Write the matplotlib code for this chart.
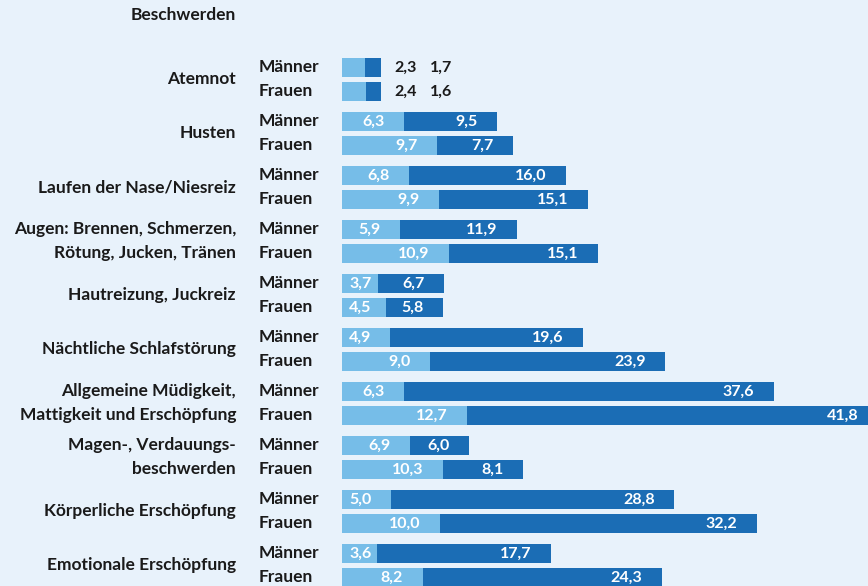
import matplotlib.pyplot as plt
import matplotlib.transforms as mtransforms

plt.rcParams['font.family'] = ['Lato', 'DejaVu Sans']

categories = [
    ['Atemnot'],
    ['Husten'],
    ['Laufen der Nase/Niesreiz'],
    ['Augen: Brennen, Schmerzen,', 'Rötung, Jucken, Tränen'],
    ['Hautreizung, Juckreiz'],
    ['Nächtliche Schlafstörung'],
    ['Allgemeine Müdigkeit,', 'Mattigkeit und Erschöpfung'],
    ['Magen-, Verdauungs-', 'beschwerden'],
    ['Körperliche Erschöpfung'],
    ['Emotionale Erschöpfung'],
]
men_light = [2.3, 6.3, 6.8, 5.9, 3.7, 4.9, 6.3, 6.9, 5.0, 3.6]
men_dark = [1.7, 9.5, 16.0, 11.9, 6.7, 19.6, 37.6, 6.0, 28.8, 17.7]
women_light = [2.4, 9.7, 9.9, 10.9, 4.5, 9.0, 12.7, 10.3, 10.0, 8.2]
women_dark = [1.6, 7.7, 15.1, 15.1, 5.8, 23.9, 41.8, 8.1, 32.2, 24.3]

LIGHT = '#76bde8'
DARK = '#1b6db5'
BG = '#e8f2fb'
TXT = '#1a1a1a'

fig = plt.figure(figsize=(8.68, 5.86), dpi=100, facecolor=BG)
ax = fig.add_axes([342 / 868, 0, 1 - 342 / 868, 1])
ax.set_facecolor(BG)
ax.set_xlim(0, 53.5)
ax.set_ylim(9.380, -1.472)
ax.axis('off')

off = 0.222
h = 0.352
fs = 12.5   # labels
vfs = 11.5  # values


def fmt(v):
    return f'{v:.1f}'.replace('.', ',')


def seg_label(y, start, width):
    end = start + width
    right = max(end - 2.0, start + 3.0)
    ax.text(right, y, fmt(width), ha='right', va='center', color='white',
            fontsize=vfs, fontweight='bold')


trans = mtransforms.blended_transform_factory(fig.transFigure, ax.transData)

for i, cat in enumerate(categories):
    rows = [(i - off, men_light[i], men_dark[i], 'Männer'),
            (i + off, women_light[i], women_dark[i], 'Frauen')]
    for y, lv, dv, name in rows:
        ax.barh(y, lv, height=h, color=LIGHT)
        ax.barh(y, dv, left=lv, height=h, color=DARK)
        ax.text(259 / 868, y, name, transform=trans, ha='left', va='center',
                color=TXT, fontsize=fs, fontweight='bold')
        if i == 0:
            ax.text(lv + dv + 1.3, y, fmt(lv), ha='left', va='center',
                    color=TXT, fontsize=vfs, fontweight='bold')
            ax.text(lv + dv + 4.9, y, fmt(dv), ha='left', va='center',
                    color=TXT, fontsize=vfs, fontweight='bold')
        else:
            seg_label(y, 0, lv)
            seg_label(y, lv, dv)
    if len(cat) == 1:
        ax.text(236 / 868, i, cat[0], transform=trans, ha='right', va='center',
                color=TXT, fontsize=fs, fontweight='bold')
    else:
        ax.text(236 / 868, i - off, cat[0], transform=trans, ha='right',
                va='center', color=TXT, fontsize=fs, fontweight='bold')
        ax.text(236 / 868, i + off, cat[1], transform=trans, ha='right',
                va='center', color=TXT, fontsize=fs, fontweight='bold')

fig.text(236 / 868, 1 - 15 / 586, 'Beschwerden', ha='right', va='center',
         color=TXT, fontsize=fs, fontweight='bold')

fig.savefig('out.png', dpi=100, facecolor=BG)
